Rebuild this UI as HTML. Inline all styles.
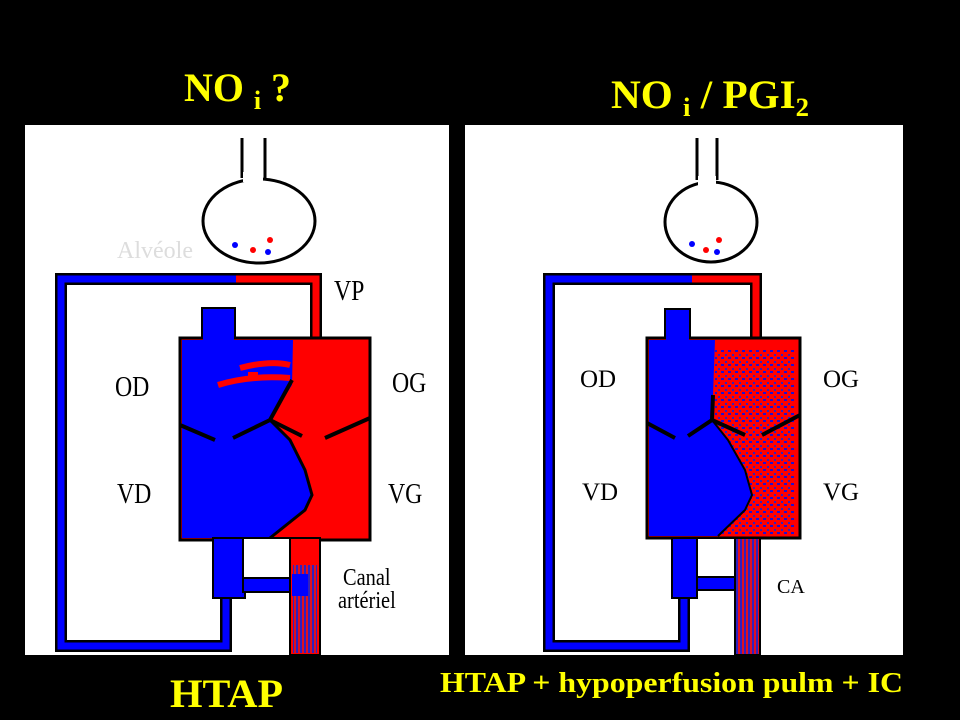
<!DOCTYPE html>
<html><head><meta charset="utf-8"><style>
html,body{margin:0;padding:0;background:#000;width:960px;height:720px;overflow:hidden}
svg{display:block}
.t{font-family:"Liberation Serif",serif;font-weight:bold;fill:#ffff00}
.l{font-family:"Liberation Serif",serif;fill:#000}
</style></head><body>
<svg width="960" height="720" viewBox="0 0 960 720" xmlns="http://www.w3.org/2000/svg">
<defs>
<pattern id="mix" width="7" height="7" patternUnits="userSpaceOnUse">
<rect width="7" height="7" fill="#ff0000"/>
<rect x="0" y="0" width="3" height="2" fill="#2010d0"/>
<rect x="4" y="4" width="2" height="2" fill="#3020c0"/>
</pattern>
<pattern id="stripe" width="4" height="6" patternUnits="userSpaceOnUse">
<rect width="4" height="6" fill="#e01020"/>
<rect width="2" height="6" fill="#3020c0"/>
</pattern>
</defs>
<rect width="960" height="720" fill="#000"/>

<g class="t">
<text x="184" y="101" font-size="40" textLength="107" lengthAdjust="spacingAndGlyphs">NO <tspan font-size="26" dy="8">i</tspan><tspan dy="-8"> ?</tspan></text>
<text x="611" y="108" font-size="40" textLength="198" lengthAdjust="spacingAndGlyphs">NO <tspan font-size="26" dy="8">i</tspan><tspan dy="-8"> / PGI</tspan><tspan font-size="26" dy="8">2</tspan></text>
<text x="170" y="707" font-size="40" textLength="113" lengthAdjust="spacingAndGlyphs">HTAP</text>
<text x="440" y="692" font-size="29" textLength="463" lengthAdjust="spacingAndGlyphs">HTAP + hypoperfusion pulm + IC</text>
</g>

<!-- LEFT PANEL -->
<rect x="25" y="125" width="424" height="530" fill="#fff"/>
<line x1="242" y1="138" x2="242" y2="178" stroke="#000" stroke-width="3"/>
<line x1="265" y1="138" x2="265" y2="178" stroke="#000" stroke-width="3"/>
<ellipse cx="259" cy="221" rx="56" ry="42" fill="#fff" stroke="#000" stroke-width="3"/>
<rect x="243" y="172" width="20" height="10" fill="#fff"/>
<circle cx="235" cy="245" r="3" fill="#0000ff"/><circle cx="253" cy="250" r="3" fill="#ff0000"/>
<circle cx="270" cy="240" r="3" fill="#ff0000"/><circle cx="268" cy="252" r="3" fill="#0000ff"/>
<text x="117" y="258" font-family="Liberation Serif,serif" font-size="24" fill="#ddd">Alvéole</text>
<path d="M226,598 L226,646 L61,646 L61,279 L316,279 L316,340" fill="none" stroke="#000" stroke-width="12"/>
<path d="M226,598 L226,646 L61,646 L61,279 L236,279" fill="none" stroke="#0000ff" stroke-width="7"/>
<path d="M236,279 L316,279 L316,340" fill="none" stroke="#ff0000" stroke-width="7"/>
<rect x="202" y="308" width="33" height="34" fill="#0000ff" stroke="#000" stroke-width="2"/>
<rect x="180" y="338" width="190" height="202" fill="#ff0000" stroke="#000" stroke-width="3"/>
<rect x="203" y="336" width="31" height="6" fill="#0000ff"/>
<path d="M182,340 L293,340 L292,385 L270,420 L290,440 L305,470 L312,495 L305,510 L270,538 L182,538 Z" fill="#0000ff"/>
<path d="M270,420 L290,440 L305,470 L312,495 L305,510 L270,538" fill="none" stroke="#000" stroke-width="3"/>
<path d="M218,385 Q250,375 290,378 M240,368 Q270,360 290,365 M248,375 l10,0" stroke="#ff0000" stroke-width="6" fill="none"/>
<path d="M180,425 L215,440 M233,438 L270,420 L292,380 M270,420 L302,436 M325,438 L370,418" stroke="#000" stroke-width="4" fill="none"/>
<rect x="213" y="538" width="32" height="60" fill="#0000ff" stroke="#000" stroke-width="2"/>
<rect x="243" y="538" width="47" height="40" fill="#fff" stroke="#000" stroke-width="2"/>
<rect x="243" y="578" width="50" height="14" fill="#0000ff" stroke="#000" stroke-width="2"/>
<rect x="290" y="538" width="30" height="117" fill="#ff0000" stroke="#000" stroke-width="2"/>
<rect x="293" y="565" width="24" height="88" fill="url(#stripe)"/>
<rect x="292" y="574" width="16" height="22" fill="#0000ff"/>
<g class="l" font-size="28">
<text x="115" y="396" transform="translate(115 0) scale(0.85 1) translate(-115 0)">OD</text>
<text x="392" y="392" transform="translate(392 0) scale(0.85 1) translate(-392 0)">OG</text>
<text x="117" y="503" transform="translate(117 0) scale(0.85 1) translate(-117 0)">VD</text>
<text x="388" y="503" transform="translate(388 0) scale(0.85 1) translate(-388 0)">VG</text>
<text x="334" y="300" transform="translate(334 0) scale(0.85 1) translate(-334 0)">VP</text>
<text x="343" y="585" font-size="24" transform="translate(343 0) scale(0.85 1) translate(-343 0)">Canal</text>
<text x="338" y="608" font-size="24" transform="translate(338 0) scale(0.85 1) translate(-338 0)">artériel</text>
</g>

<!-- RIGHT PANEL -->
<rect x="465" y="125" width="438" height="530" fill="#fff"/>
<line x1="697" y1="138" x2="697" y2="180" stroke="#000" stroke-width="3"/>
<line x1="717" y1="138" x2="717" y2="180" stroke="#000" stroke-width="3"/>
<ellipse cx="711" cy="222" rx="46" ry="40" fill="#fff" stroke="#000" stroke-width="3"/>
<rect x="698" y="176" width="18" height="10" fill="#fff"/>
<circle cx="692" cy="244" r="3" fill="#0000ff"/><circle cx="706" cy="250" r="3" fill="#ff0000"/>
<circle cx="719" cy="240" r="3" fill="#ff0000"/><circle cx="717" cy="252" r="3" fill="#0000ff"/>
<path d="M684,598 L684,646 L549,646 L549,279 L756,279 L756,338" fill="none" stroke="#000" stroke-width="12"/>
<path d="M684,598 L684,646 L549,646 L549,279 L692,279" fill="none" stroke="#0000ff" stroke-width="7"/>
<path d="M692,279 L756,279 L756,338" fill="none" stroke="#ff0000" stroke-width="7"/>
<rect x="665" y="309" width="25" height="31" fill="#0000ff" stroke="#000" stroke-width="2"/>
<rect x="647" y="338" width="153" height="200" fill="#ff0000" stroke="#000" stroke-width="3"/>
<rect x="715" y="350" width="80" height="186" fill="url(#mix)"/>
<rect x="666" y="336" width="23" height="6" fill="#0000ff"/>
<path d="M649,340 L715,340 L713,395 L712,420 L728,440 L745,470 L752,495 L745,510 L718,536 L649,536 Z" fill="#0000ff"/>
<path d="M712,420 L728,440 L745,470 L752,495 L745,510 L718,536" fill="none" stroke="#000" stroke-width="2"/>
<path d="M647,423 L675,438 M688,436 L712,420 L713,395 M712,420 L745,435 M762,435 L800,415" stroke="#000" stroke-width="4" fill="none"/>
<rect x="672" y="538" width="25" height="60" fill="#0000ff" stroke="#000" stroke-width="2"/>
<rect x="697" y="538" width="38" height="39" fill="#fff" stroke="#000" stroke-width="2"/>
<rect x="697" y="577" width="40" height="13" fill="#0000ff" stroke="#000" stroke-width="2"/>
<rect x="735" y="538" width="25" height="117" fill="url(#stripe)" stroke="#000" stroke-width="2"/>
<g class="l" font-size="25">
<text x="580" y="387">OD</text>
<text x="823" y="387">OG</text>
<text x="582" y="500">VD</text>
<text x="823" y="500">VG</text>
<text x="777" y="593" font-size="20">CA</text>
</g>
</svg>
</body></html>
